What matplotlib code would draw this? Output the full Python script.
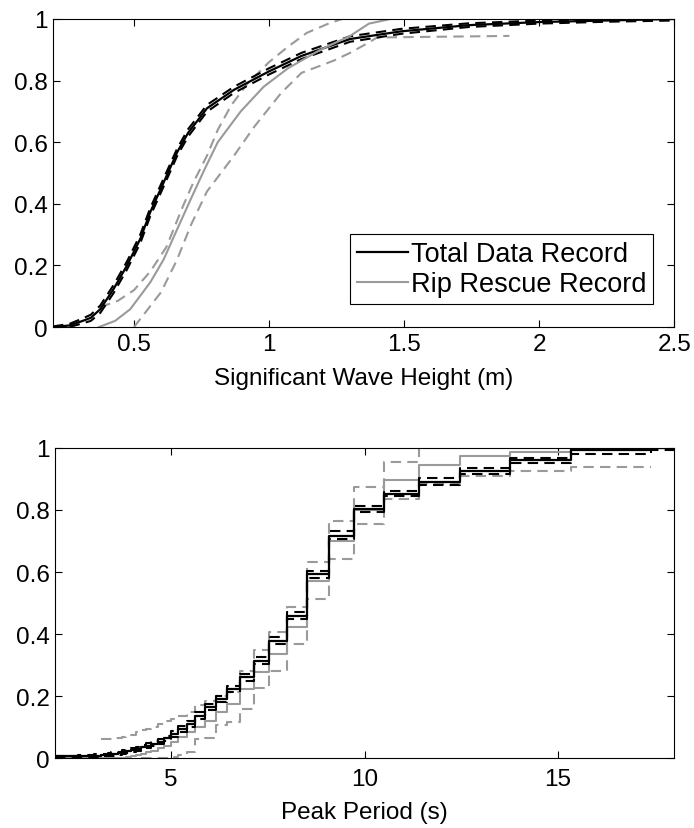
import numpy as np
import matplotlib
matplotlib.use('Agg')
import matplotlib.pyplot as plt
from matplotlib.ticker import FuncFormatter

plt.rcParams['font.family'] = ['Liberation Sans', 'DejaVu Sans']

# ---- Significant wave height CDFs (top panel) ----
hs_total_x = [0.20, 0.26, 0.31, 0.34, 0.375, 0.424, 0.474, 0.523, 0.56, 0.61, 0.66, 0.70,
              0.77, 0.87, 1.0, 1.12, 1.30, 1.49, 1.74, 2.0, 2.25, 2.5]
hs_total_y = [0.0, 0.005, 0.02, 0.03, 0.058, 0.123, 0.20, 0.286, 0.373, 0.47, 0.568, 0.63,
              0.71, 0.77, 0.83, 0.88, 0.935, 0.96, 0.98, 0.99, 0.995, 1.0]
hs_total_lo = [0.0, 0.0, 0.012, 0.02, 0.046, 0.110, 0.187, 0.272, 0.360, 0.457, 0.556, 0.618,
               0.699, 0.760, 0.820, 0.870, 0.926, 0.952, 0.974, 0.985, 0.991, 0.995]
hs_total_hi = [0.002, 0.01, 0.028, 0.04, 0.070, 0.136, 0.213, 0.300, 0.386, 0.483, 0.580, 0.642,
               0.721, 0.780, 0.840, 0.890, 0.944, 0.968, 0.986, 0.995, 0.999, 1.0]

hs_rip_x = [0.37, 0.43, 0.486, 0.56, 0.61, 0.66, 0.71, 0.76, 0.81, 0.895, 0.98, 1.07,
            1.19, 1.30, 1.37, 1.45]
hs_rip_y = [0.0, 0.02, 0.058, 0.145, 0.22, 0.318, 0.415, 0.51, 0.60, 0.70, 0.78, 0.84,
            0.90, 0.945, 0.985, 1.0]
hs_rip_hi_x = [0.375, 0.44, 0.50, 0.56, 0.62, 0.68, 0.72, 0.77, 0.81, 0.86, 0.92, 1.0,
               1.07, 1.14, 1.22, 1.27]
hs_rip_hi_y = [0.065, 0.085, 0.12, 0.18, 0.26, 0.39, 0.47, 0.556, 0.64, 0.72, 0.79, 0.86,
               0.91, 0.955, 0.985, 1.0]
hs_rip_lo_x = [0.50, 0.60, 0.66, 0.71, 0.77, 0.87, 0.945, 1.045, 1.12, 1.24, 1.30, 1.37,
               1.40, 1.89]
hs_rip_lo_y = [0.0, 0.113, 0.22, 0.33, 0.44, 0.556, 0.65, 0.76, 0.825, 0.865, 0.89, 0.924,
               0.94, 0.945]

# ---- Peak period CDFs (bottom panel), value held from each period to the next ----
tp_periods = [2.0, 2.6, 3.0, 3.2, 3.36, 3.45, 3.54, 3.63, 3.74, 3.84, 3.96, 4.08, 4.21,
              4.34, 4.49, 4.65, 4.81, 5.0, 5.19, 5.40, 5.63, 5.88, 6.15, 6.44, 6.77, 7.13,
              7.54, 7.99, 8.50, 9.07, 9.74, 10.5, 11.4, 12.47, 13.76, 15.34, 17.4, 18.0]
tp_total = [0.005, 0.006, 0.008, 0.009, 0.011, 0.013, 0.014, 0.016, 0.019, 0.022, 0.026,
            0.030, 0.035, 0.040, 0.046, 0.053, 0.063, 0.078, 0.094, 0.110, 0.137, 0.164,
            0.190, 0.222, 0.261, 0.314, 0.378, 0.459, 0.593, 0.717, 0.803, 0.852, 0.890,
            0.925, 0.960, 0.992, 1.0, 1.0]
tp_total_lo = [0.002, 0.003, 0.004, 0.005, 0.007, 0.008, 0.009, 0.011, 0.013, 0.016, 0.019,
               0.023, 0.027, 0.032, 0.038, 0.045, 0.055, 0.069, 0.085, 0.101, 0.127, 0.154,
               0.180, 0.212, 0.250, 0.303, 0.367, 0.448, 0.582, 0.707, 0.795, 0.845, 0.882,
               0.915, 0.950, 0.982, 0.994, 0.994]
tp_total_hi = [0.008, 0.009, 0.012, 0.013, 0.015, 0.018, 0.019, 0.021, 0.025, 0.028, 0.033,
               0.037, 0.043, 0.048, 0.054, 0.061, 0.071, 0.087, 0.103, 0.119, 0.147, 0.174,
               0.200, 0.232, 0.272, 0.325, 0.389, 0.470, 0.603, 0.732, 0.812, 0.862, 0.903,
               0.935, 0.967, 1.0, 1.0, 1.0]
nan = np.nan
tp_rip = [0, 0, 0, 0, 0, 0, 0, 0, 0, 0.003, 0.006, 0.009, 0.013, 0.018, 0.024, 0.031,
          0.040, 0.052, 0.067, 0.083, 0.100, 0.120, 0.148, 0.174, 0.222, 0.277, 0.337,
          0.424, 0.572, 0.70, 0.80, 0.898, 0.945, 0.975, 0.987, 1.0, nan, nan]
tp_rip_lo = [nan, nan, nan, nan, nan, nan, nan, nan, nan, nan, nan, nan, 0, 0, 0, 0, 0,
             0.002, 0.010, 0.018, 0.060, 0.065, 0.105, 0.115, 0.158, 0.226, 0.28, 0.367,
             0.513, 0.643, 0.755, 0.834, 0.885, 0.91, 0.925, 0.94, nan, nan]
tp_rip_hi = [nan, nan, nan, 0.060, 0.061, 0.062, 0.064, 0.066, 0.068, 0.070, 0.075, 0.085,
             0.090, 0.095, 0.100, 0.110, 0.118, 0.125, 0.135, 0.150, 0.170, 0.185, 0.200,
             0.212, 0.280, 0.350, 0.405, 0.487, 0.632, 0.766, 0.874, 0.954, 1.0, nan, nan,
             nan, nan, nan]

gray = '#9a9a9a'
dash = (0, (5, 3))

fig = plt.figure(figsize=(6.94, 8.29), dpi=100)
ax1 = fig.add_axes([0.0764, 0.6043, 0.895, 0.3716])
ax2 = fig.add_axes([0.0793, 0.0844, 0.892, 0.3740])

# top panel
ax1.plot(hs_rip_hi_x, hs_rip_hi_y, color=gray, lw=1.5, ls=dash)
ax1.plot(hs_rip_lo_x, hs_rip_lo_y, color=gray, lw=1.5, ls=dash)
ax1.plot(hs_total_x, hs_total_lo, color='k', lw=1.5, ls=dash)
ax1.plot(hs_total_x, hs_total_hi, color='k', lw=1.5, ls=dash)
ax1.plot(hs_total_x, hs_total_y, color='k', lw=1.6, label='Total Data Record')
ax1.plot(hs_rip_x, hs_rip_y, color=gray, lw=1.5, label='Rip Rescue Record')
ax1.set_xlim(0.2, 2.5)
ax1.set_xticks([0.5, 1, 1.5, 2, 2.5])
ax1.set_xlabel('Significant Wave Height (m)', fontsize=17.5, labelpad=9)
leg = ax1.legend(loc='lower right', bbox_to_anchor=(0.966, 0.075), borderaxespad=0,
                 fontsize=19.5, handlelength=1.9, handletextpad=0.1, fancybox=False,
                 framealpha=1, edgecolor='k', borderpad=0.25, labelspacing=0.15)
leg.get_frame().set_linewidth(0.8)

# bottom panel
ax2.step(tp_periods, tp_rip_hi, where='post', color=gray, lw=1.5, ls=dash)
ax2.step(tp_periods, tp_rip_lo, where='post', color=gray, lw=1.5, ls=dash)
ax2.step(tp_periods, tp_rip, where='post', color=gray, lw=1.5)
ax2.step(tp_periods, tp_total_lo, where='post', color='k', lw=1.5, ls=dash)
ax2.step(tp_periods, tp_total_hi, where='post', color='k', lw=1.5, ls=dash)
ax2.step(tp_periods, tp_total, where='post', color='k', lw=1.6)
ax2.set_xlim(2, 18)
ax2.set_xticks([5, 10, 15])
ax2.set_xlabel('Peak Period (s)', fontsize=17.5, labelpad=8)

fmt = FuncFormatter(lambda v, p: '%g' % v)
for ax in (ax1, ax2):
    ax.set_ylim(0, 1)
    ax.set_yticks([0, 0.2, 0.4, 0.6, 0.8, 1])
    ax.xaxis.set_major_formatter(fmt)
    ax.yaxis.set_major_formatter(fmt)
    ax.tick_params(direction='in', top=True, right=True, length=5, width=0.8,
                   labelsize=17.5, pad=4)
    for s in ax.spines.values():
        s.set_linewidth(0.8)
ax2.tick_params(axis='x', pad=7)

fig.savefig('out.png', dpi=100)
